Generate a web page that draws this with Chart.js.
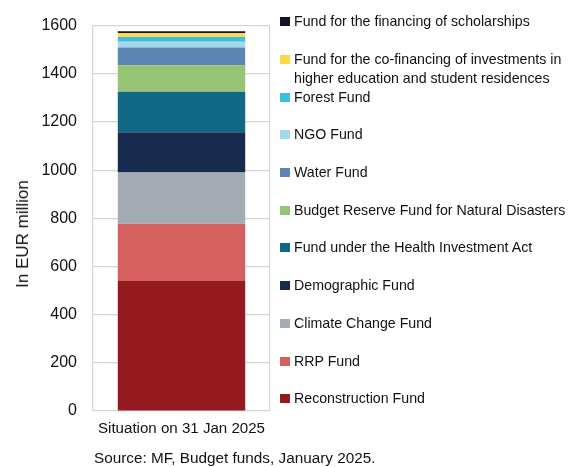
<!DOCTYPE html>
<html>
<head>
<meta charset="utf-8">
<script src="https://cdn.jsdelivr.net/npm/chart.js@4"></script>
<style>
  body { margin: 0; background: #fff; font-family: "Liberation Sans", Arial, sans-serif; }
  #wrap { position: relative; width: 581px; height: 467px; }
  #legend { position: absolute; left: 280px; top: 0; width: 301px; }
  .item { position: absolute; left: 0; font-size: 14.2px; line-height: 19.5px; color: #111; padding-left: 14px; white-space: nowrap; }
  .box { position: absolute; left: 0; top: 5px; width: 10px; height: 9px; }
  #source { position: absolute; left: 94px; top: 449px; font-size: 15.3px; color: #111; }
  #ytitle { position: absolute; left: 23px; top: 234px; font-size: 17px; color: #111;
            transform: translate(-50%, -50%) rotate(-90deg); white-space: nowrap; }
</style>
</head>
<body>
<div id="wrap">
  <canvas id="chart" width="581" height="467"></canvas>
  <div id="ytitle">In EUR million</div>
  <div id="legend"></div>
  <div id="source">Source: MF, Budget funds, January 2025.</div>
</div>
<script>
// stacking order: bottom to top
const categories = ["Situation on 31 Jan 2025"];
const fundNames = [
  "Reconstruction Fund",
  "RRP Fund",
  "Climate Change Fund",
  "Demographic Fund",
  "Fund under the Health Investment Act",
  "Budget Reserve Fund for Natural Disasters",
  "Water Fund",
  "NGO Fund",
  "Forest Fund",
  ["Fund for the co-financing of investments in", "higher education and student residences"],
  "Fund for the financing of scholarships"
];
const fundValues = [540, 237, 213, 167, 168, 110, 74, 24, 20, 16, 8];
const fundColors = ["#951A1F", "#D66060", "#A5ABB2", "#172B4F", "#106886", "#95C572",
                    "#5C86B4", "#A3D9EC", "#3FBDE3", "#FDD84A", "#1A1028"];
const yTicks = [0, 200, 400, 600, 800, 1000, 1200, 1400, 1600];

const datasets = fundNames.map((name, i) => ({
  label: Array.isArray(name) ? name.join(" ") : name,
  data: [fundValues[i]],
  backgroundColor: fundColors[i],
  borderWidth: 0,
  barPercentage: 0.72,
  categoryPercentage: 1
}));

new Chart(document.getElementById("chart"), {
  type: "bar",
  data: { labels: categories, datasets: datasets },
  options: {
    responsive: false,
    animation: false,
    layout: { padding: { left: 0, right: 311, top: 21, bottom: 0 } },
    plugins: { legend: { display: false }, tooltip: { enabled: false } },
    scales: {
      x: {
        stacked: true,
        offset: true,
        grid: { display: true, offset: true, drawTicks: false, color: "#d4d4d4", lineWidth: 1.2 },
        border: { display: false },
        ticks: { padding: 9, color: "#111", font: { size: 15.1, family: "Liberation Sans" } },
        afterFit: (axis) => { axis.height = 56; }
      },
      y: {
        stacked: true,
        min: 0,
        max: 1600,
        afterBuildTicks: (axis) => { axis.ticks = yTicks.map(v => ({ value: v })); },
        grid: { drawTicks: false, color: "#d4d4d4", lineWidth: 1.2 },
        border: { display: false },
        ticks: { padding: 16, color: "#111", font: { size: 16, family: "Liberation Sans" },
                 callback: (v) => String(v) },
        afterFit: (axis) => { axis.width = 93; }
      }
    }
  }
});

// legend, top to bottom (reverse of stacking order)
const legend = document.getElementById("legend");
for (let k = 0; k < fundNames.length; k++) {
  const i = fundNames.length - 1 - k;
  const name = fundNames[i];
  const div = document.createElement("div");
  div.className = "item";
  div.style.top = (22 + k * 37.7 - 9.75) + "px";
  div.innerHTML = '<span class="box" style="background:' + fundColors[i] + '"></span>' +
    (Array.isArray(name) ? name.join("<br>") : name);
  legend.appendChild(div);
}
</script>
</body>
</html>
